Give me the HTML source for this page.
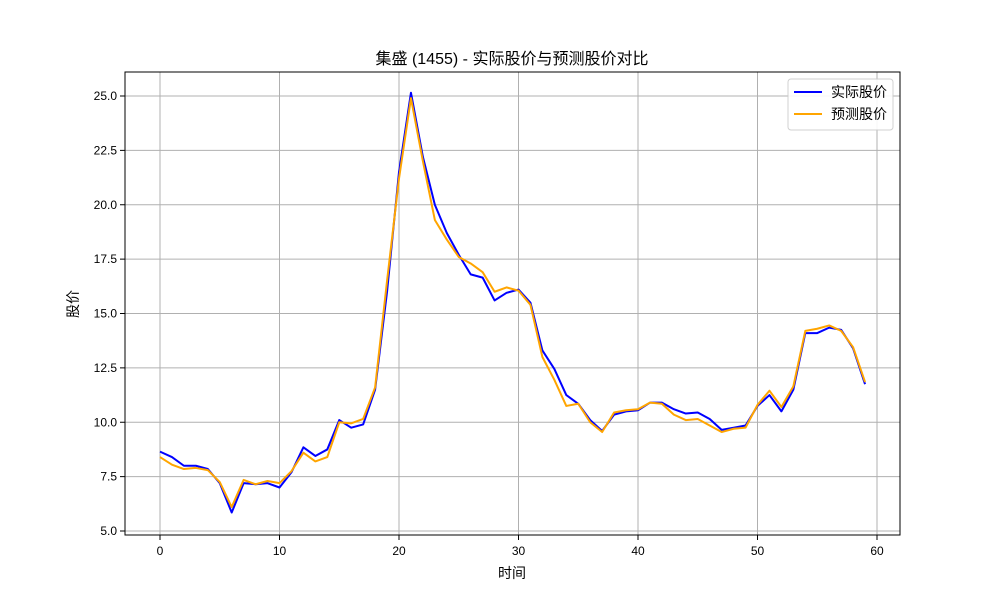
<!DOCTYPE html>
<html><head><meta charset="utf-8"><style>body{margin:0;background:#fff}svg{display:block;font-family:"Liberation Sans","Noto Sans CJK SC",sans-serif}</style></head>
<body>
<svg id="chart" width="1000" height="600">
<rect x="0" y="0" width="1000" height="600" fill="#fff"/>
<g id="grid"></g><g id="series"></g><g id="axes"></g>
<text x="512" y="64" text-anchor="middle" font-size="16">集盛 (1455) - 实际股价与预测股价对比</text>
<text x="512" y="578" text-anchor="middle" font-size="14">时间</text>
<text x="78" y="304" text-anchor="middle" font-size="14" transform="rotate(-90 78 304)">股价</text>
<g>
<rect x="788" y="79" width="105" height="51" rx="3" fill="#fff" stroke="#ccc" opacity="0.9"/>
<line x1="794" y1="92" x2="822" y2="92" stroke="#0000ff" stroke-width="2"/>
<text x="831" y="97" font-size="14">实际股价</text>
<line x1="794" y1="114" x2="822" y2="114" stroke="#ffa500" stroke-width="2"/>
<text x="831" y="119" font-size="14">预测股价</text>
</g>
</svg>
<script>
const actual=[8.65,8.4,8.0,8.0,7.85,7.2,5.85,7.2,7.15,7.2,7.0,7.7,8.85,8.45,8.75,10.1,9.75,9.9,11.5,16,21.5,25.15,22.2,20.0,18.7,17.7,16.8,16.65,15.6,15.95,16.1,15.5,13.3,12.45,11.25,10.85,10.1,9.6,10.35,10.5,10.55,10.9,10.9,10.6,10.4,10.45,10.15,9.65,9.75,9.85,10.75,11.25,10.5,11.5,14.1,14.1,14.35,14.25,13.4,11.75];
const predicted=[8.4,8.05,7.85,7.9,7.8,7.25,6.1,7.35,7.15,7.3,7.2,7.75,8.6,8.2,8.4,10.0,9.95,10.15,11.6,16.5,21.2,24.9,22.0,19.3,18.4,17.6,17.3,16.9,16.0,16.2,16.05,15.4,13.0,11.95,10.75,10.85,10.0,9.55,10.45,10.55,10.6,10.9,10.85,10.35,10.1,10.15,9.85,9.55,9.7,9.75,10.8,11.45,10.7,11.65,14.2,14.3,14.45,14.2,13.45,11.85];
const xTicks=[0,10,20,30,40,50,60];
const yTicks=[5.0,7.5,10.0,12.5,15.0,17.5,20.0,22.5,25.0];
const NS="http://www.w3.org/2000/svg";
const L=125,R=900,T=72,B=535;
const xs=v=>160+v*(877-160)/60;
const ys=v=>531-(v-5)*(531-96)/20;
function mk(tag,attrs,parent){const e=document.createElementNS(NS,tag);for(const k in attrs)e.setAttribute(k,attrs[k]);parent.appendChild(e);return e;}
const grid=document.getElementById('grid'),axes=document.getElementById('axes'),series=document.getElementById('series');
xTicks.forEach(t=>{const x=xs(t);
const g=mk('line',{x1:x,x2:x,y1:T,y2:B,stroke:'#b0b0b0','stroke-width':1},grid);


mk('line',{x1:x,x2:x,y1:B,y2:B+5,stroke:'#000'},axes);
const tx=mk('text',{x:x,y:B+20,'text-anchor':'middle','font-size':12},axes);tx.textContent=t;

});
yTicks.forEach(t=>{const y=ys(t);
const g=mk('line',{x1:L,x2:R,y1:y,y2:y,stroke:'#b0b0b0','stroke-width':1},grid);


mk('line',{x1:L-5,x2:L,y1:y,y2:y,stroke:'#000'},axes);
const tx=mk('text',{x:L-8,y:y+4,'text-anchor':'end','font-size':12},axes);tx.textContent=t.toFixed(1);

});
const fr=mk('rect',{x:L,y:T,width:R-L,height:B-T,fill:'none',stroke:'#000','stroke-width':1},axes);


function line(d,c,n){const p=mk('polyline',{points:d.map((v,i)=>xs(i)+','+ys(v)).join(' '),fill:'none',stroke:c,'stroke-width':2,'stroke-linejoin':'round'},series);

}
line(actual,'#0000ff','actual-price-line');
line(predicted,'#ffa500','predicted-price-line');
</script>
</body></html>
